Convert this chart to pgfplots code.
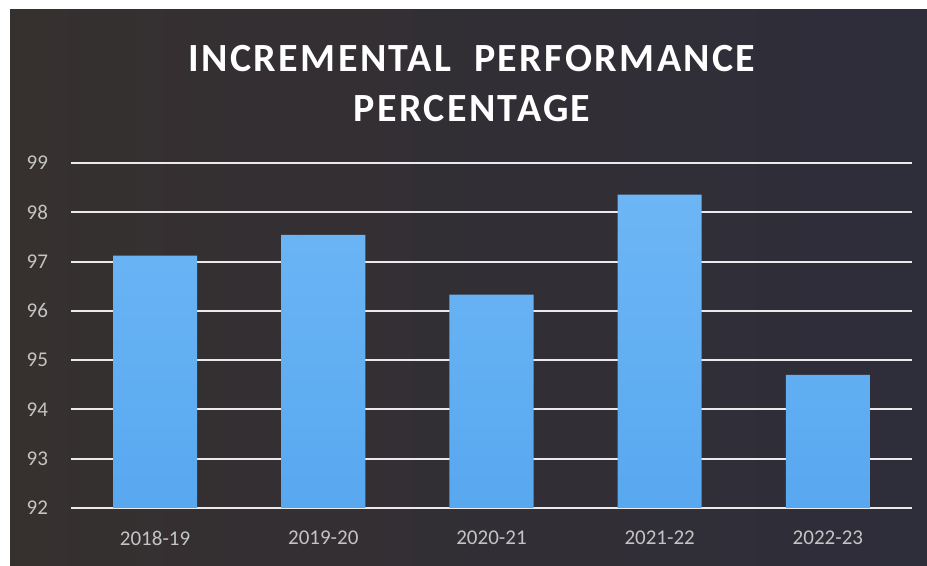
\documentclass[border=0pt]{standalone}
\usepackage{pgfplots}
\pgfplotsset{compat=1.18}
\usepackage{fontspec}
\setmainfont{Carlito}
\definecolor{bgL}{HTML}{36302F}
\definecolor{bgR}{HTML}{2E2D3A}
\definecolor{barT}{HTML}{6DB6F5}
\definecolor{barB}{HTML}{58A8F0}
\definecolor{lbl}{HTML}{C4C4C4}
\begin{document}
\begin{tikzpicture}
\useasboundingbox (0,0) rectangle (463.5pt,283pt);
\fill[white] (0,0) rectangle (463.5pt,283pt);
\shade[left color=bgL, right color=bgR] (5pt,0) rectangle (463.5pt,278pt);
\node[anchor=base, text=white, font=\fontsize{20}{24}\selectfont\bfseries\addfontfeatures{LetterSpace=6}] at (236pt,247pt) {INCREMENTAL\ \ PERFORMANCE};
\node[anchor=base, text=white, font=\fontsize{20}{24}\selectfont\bfseries\addfontfeatures{LetterSpace=6}] at (236pt,222pt) {PERCENTAGE};
\begin{axis}[
  at={(35.5pt,29pt)}, anchor=south west,
  scale only axis, width=420.5pt, height=172.5pt,
  xmin=-0.5, xmax=4.5, ymin=92, ymax=99,
  ytick={92,...,99},
  xtick=data,
  xticklabels={2018-19,2019-20,2020-21,2021-22,2022-23},
  axis line style={draw=none},
  major tick length=0pt,
  ymajorgrids,
  grid style={white, line width=1pt, opacity=0.9},
  /pgf/number format/assume math mode=true,
  tick label style={text=lbl, font=\fontsize{10.5}{12}\selectfont},
  yticklabel style={xshift=-8pt},
  xticklabel style={yshift=-8pt},
  ybar, bar width=0.5,
  clip=false,
]
\addplot[draw=none, top color=barT, bottom color=barB] coordinates {
  (0,97.12) (1,97.54) (2,96.33) (3,98.36) (4,94.70)
};
\end{axis}
\end{tikzpicture}
\end{document}
